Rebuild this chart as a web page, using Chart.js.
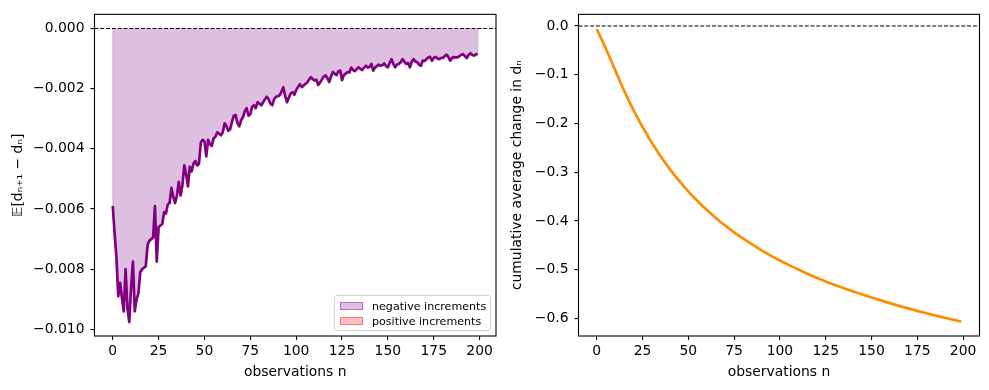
<!DOCTYPE html>
<html>
<head>
<meta charset="utf-8">
<script src="https://cdn.jsdelivr.net/npm/chart.js@4.4.1/dist/chart.umd.min.js"></script>
<style>
  body { margin: 0; width: 989px; height: 390px; background: #fff; position: relative; overflow: hidden; font-family: "DejaVu Sans", sans-serif; }
  canvas { position: absolute; top: 0; }
  #leftChart { left: 0; }
  #rightChart { left: 500px; }
  .legend { position: absolute; left: 334px; top: 295px; width: 155px; height: 34px; border: 1px solid #d0d0d0; border-radius: 3px; background: rgba(255,255,255,0.8); font-size: 11.1px; color: #000; }
  .legend .row { position: absolute; left: 5px; height: 12px; display: flex; align-items: center; white-space: nowrap; }
  .legend .swatch { width: 23px; height: 8px; margin-right: 9px; box-sizing: border-box; }
</style>
</head>
<body>
<canvas id="leftChart" width="500" height="390"></canvas>
<canvas id="rightChart" width="489" height="390"></canvas>
<div class="legend">
  <div class="row" style="top:4px"><span class="swatch" style="background:rgba(128,0,128,0.25);border:1px solid rgba(128,0,128,0.4)"></span>negative increments</div>
  <div class="row" style="top:19px"><span class="swatch" style="background:rgba(255,0,0,0.25);border:1px solid rgba(255,0,0,0.4)"></span>positive increments</div>
</div>
<script>
// expected one-step change E[d_{n+1} - d_n] for n = 0..199
const increments = [
  -0.00590, -0.00680, -0.00760, -0.00890, -0.00845, -0.00895, -0.00940, -0.00800, -0.00930, -0.00975,
  -0.00860, -0.00775, -0.00940, -0.00900, -0.00880, -0.00810, -0.00800, -0.00795, -0.00790, -0.00720,
  -0.00705, -0.00700, -0.00695, -0.00590, -0.00775, -0.00660, -0.00655, -0.00650, -0.00610, -0.00615,
  -0.00585, -0.00580, -0.00530, -0.00560, -0.00580, -0.00555, -0.00510, -0.00555, -0.00520, -0.00455,
  -0.00485, -0.00525, -0.00460, -0.00475, -0.00450, -0.00440, -0.00455, -0.00450, -0.00380, -0.00370,
  -0.00375, -0.00425, -0.00370, -0.00385, -0.00390, -0.00365, -0.00360, -0.00345, -0.00350, -0.00355,
  -0.00345, -0.00315, -0.00325, -0.00340, -0.00335, -0.00310, -0.00290, -0.00288, -0.00315, -0.00325,
  -0.00305, -0.00295, -0.00275, -0.00265, -0.00290, -0.00285, -0.00260, -0.00255, -0.00265, -0.00245,
  -0.00250, -0.00255, -0.00245, -0.00235, -0.00227, -0.00235, -0.00250, -0.00255, -0.00235, -0.00227,
  -0.00225, -0.00222, -0.00210, -0.00195, -0.00225, -0.00245, -0.00230, -0.00216, -0.00212, -0.00220,
  -0.00205, -0.00195, -0.00185, -0.00195, -0.00190, -0.00184, -0.00180, -0.00170, -0.00162, -0.00168,
  -0.00173, -0.00170, -0.00188, -0.00180, -0.00170, -0.00160, -0.00156, -0.00165, -0.00178, -0.00160,
  -0.00145, -0.00150, -0.00155, -0.00142, -0.00140, -0.00172, -0.00155, -0.00150, -0.00145, -0.00146,
  -0.00130, -0.00138, -0.00142, -0.00135, -0.00129, -0.00134, -0.00138, -0.00130, -0.00124, -0.00130,
  -0.00128, -0.00118, -0.00140, -0.00130, -0.00125, -0.00120, -0.00124, -0.00122, -0.00116, -0.00125,
  -0.00129, -0.00115, -0.00102, -0.00118, -0.00129, -0.00120, -0.00118, -0.00112, -0.00102, -0.00110,
  -0.00118, -0.00115, -0.00129, -0.00110, -0.00102, -0.00110, -0.00112, -0.00120, -0.00124, -0.00107,
  -0.00108, -0.00102, -0.00096, -0.00094, -0.00107, -0.00098, -0.00094, -0.00100, -0.00102, -0.00098,
  -0.00098, -0.00092, -0.00087, -0.00095, -0.00107, -0.00098, -0.00095, -0.00096, -0.00096, -0.00092,
  -0.00088, -0.00085, -0.00092, -0.00098, -0.00088, -0.00082, -0.00088, -0.00090, -0.00086, -0.00085
];

// cumulative average change in d_n
const cumulativeN = [0, 5, 10, 15, 20, 25, 30, 35, 40, 45, 50, 55, 60, 65, 70, 75, 80, 85, 90, 95,
  100, 105, 110, 115, 120, 125, 130, 135, 140, 145, 150, 155, 160, 165, 170, 175, 180, 185, 190, 195, 199];
const cumulativeChange = [-0.0060, -0.0465, -0.0900, -0.1330, -0.1720, -0.2070, -0.2390, -0.2678, -0.2940, -0.3178,
  -0.3394, -0.3591, -0.3771, -0.3937, -0.4090, -0.4232, -0.4364, -0.4487, -0.4602, -0.4710,
  -0.4810, -0.4906, -0.4997, -0.5083, -0.5164, -0.5240, -0.5312, -0.5381, -0.5447, -0.5510,
  -0.5570, -0.5629, -0.5686, -0.5741, -0.5794, -0.5845, -0.5894, -0.5941, -0.5986, -0.6030, -0.6064];

const xTicks = [0, 25, 50, 75, 100, 125, 150, 175, 200];
const leftYTicks = [0, -0.002, -0.004, -0.006, -0.008, -0.010];
const rightYTicks = [0, -0.1, -0.2, -0.3, -0.4, -0.5, -0.6];

Chart.defaults.color = '#000';
Chart.defaults.font.family = '"DejaVu Sans", sans-serif';
Chart.defaults.font.size = 13.9;

const fmt = (v, d) => (v < -1e-12 ? '\u2212' : '') + Math.abs(v).toFixed(d);

// black frame around the axes plus dashed zero line
const frameAndZero = {
  id: 'frameAndZero',
  afterDatasetsDraw(chart) {
    const { ctx, chartArea: a } = chart;
    const y0 = chart.scales.y.getPixelForValue(0);
    ctx.save();
    ctx.strokeStyle = '#000';
    ctx.lineWidth = 1.1;
    ctx.setLineDash([4, 1.8]);
    ctx.beginPath();
    ctx.moveTo(a.left, y0);
    ctx.lineTo(a.right, y0);
    ctx.stroke();
    ctx.setLineDash([]);
    ctx.strokeRect(a.left, a.top, a.right - a.left, a.bottom - a.top);
    ctx.restore();
  }
};

// edges of the shaded region (fill_between outline)
const fillEdges = {
  id: 'fillEdges',
  beforeDatasetsDraw(chart) {
    const pts = chart.getDatasetMeta(0).data;
    if (!pts.length) return;
    const { ctx } = chart;
    const y0 = chart.scales.y.getPixelForValue(0);
    ctx.save();
    ctx.strokeStyle = 'rgba(128,0,128,0.25)';
    ctx.lineWidth = 1.1;
    [pts[0], pts[pts.length - 1]].forEach(p => {
      ctx.beginPath();
      ctx.moveTo(p.x, y0);
      ctx.lineTo(p.x, p.y);
      ctx.stroke();
    });
    ctx.restore();
  }
};

function axisTicks(values) {
  return axis => { axis.ticks = values.map(v => ({ value: v })); };
}

function buildOptions(yMin, yMax, yTicks, decimals, yWidth, padRight, yTitle, yTitlePad) {
  return {
    responsive: false,
    animation: false,
    layout: { padding: { top: 10.5, right: padRight, left: 0, bottom: 0 } },
    plugins: { legend: { display: false }, tooltip: { enabled: false } },
    scales: {
      x: {
        type: 'linear',
        min: -9.95,
        max: 208.95,
        afterBuildTicks: axisTicks(xTicks),
        afterFit: s => { s.height = 54; },
        border: { display: false },
        grid: { drawOnChartArea: false, drawTicks: true, tickLength: 4, color: '#000', lineWidth: 1.1 },
        ticks: { padding: 3, maxRotation: 0, callback: v => String(v) },
        title: { display: true, text: 'observations n', padding: { top: 0, bottom: 9 } }
      },
      y: {
        type: 'linear',
        min: yMin,
        max: yMax,
        afterBuildTicks: axisTicks(yTicks),
        afterFit: s => { s.width = yWidth; },
        border: { display: false },
        grid: { drawOnChartArea: false, drawTicks: true, tickLength: 4, color: '#000', lineWidth: 1.1 },
        ticks: { padding: 6, callback: v => fmt(v, decimals) },
        title: { display: true, text: yTitle, padding: { top: yTitlePad, bottom: 0 } }
      }
    }
  };
}

new Chart(document.getElementById('leftChart').getContext('2d'), {
  type: 'line',
  data: {
    datasets: [{
      label: 'increments',
      data: increments.map((v, i) => ({ x: i, y: v })),
      borderColor: '#800080',
      borderWidth: 2.7,
      borderJoinStyle: 'round',
      pointRadius: 0,
      tension: 0,
      fill: { target: 'origin', below: 'rgba(128,0,128,0.25)', above: 'rgba(255,0,0,0.25)' }
    }]
  },
  options: buildOptions(-0.01022, 0.00047, leftYTicks, 3, 94.5, 4, '\u{1D53C}[d\u2099\u208A\u2081 \u2212 d\u2099]', 9.6),
  plugins: [fillEdges, frameAndZero]
});

new Chart(document.getElementById('rightChart').getContext('2d'), {
  type: 'line',
  data: {
    datasets: [{
      label: 'cumulative',
      data: cumulativeN.map((n, i) => ({ x: n, y: cumulativeChange[i] })),
      borderColor: '#FF8C00',
      borderWidth: 2.7,
      borderJoinStyle: 'round',
      pointRadius: 0,
      cubicInterpolationMode: 'monotone',
      fill: false
    }]
  },
  options: buildOptions(-0.636, 0.024, rightYTicks, 1, 78.5, 9.5, 'cumulative average change in d\u2099', 8.6),
  plugins: [frameAndZero]
});
</script>
</body>
</html>
